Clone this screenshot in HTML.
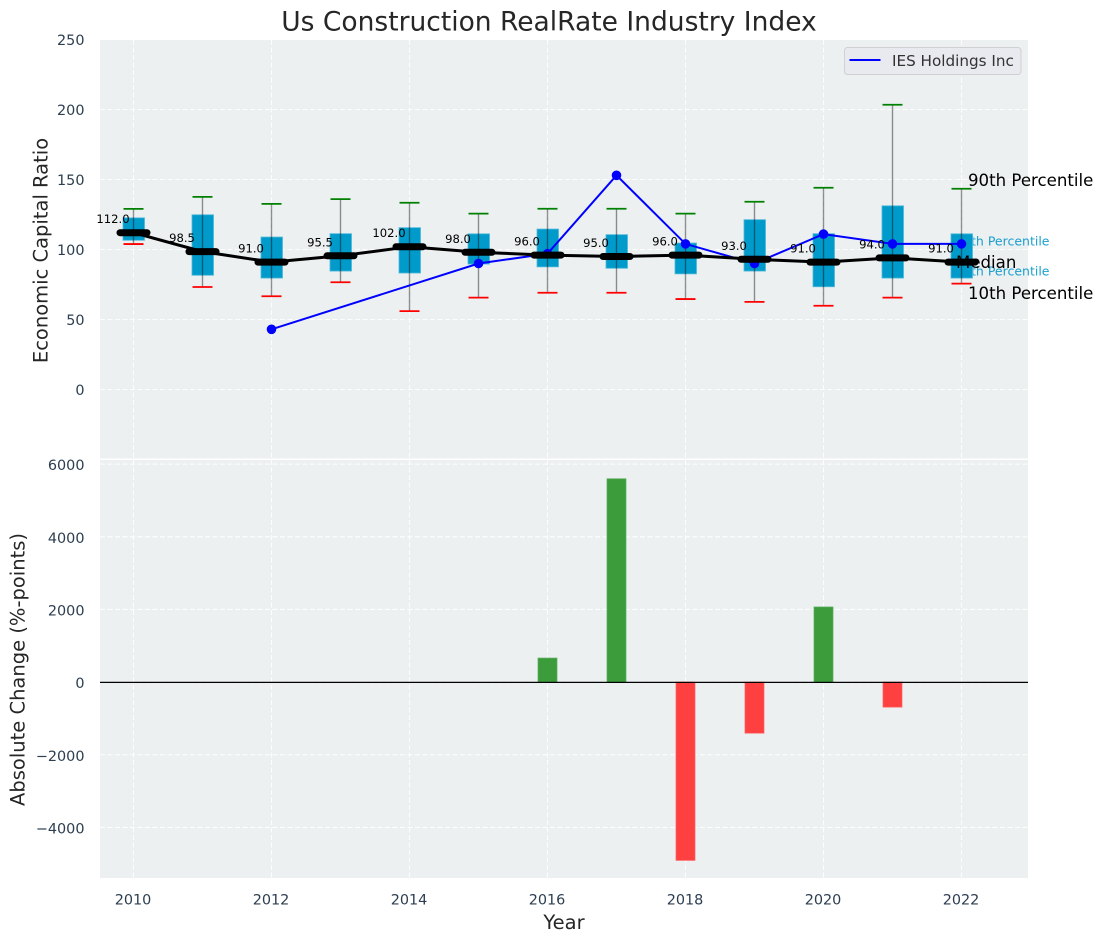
<!DOCTYPE html>
<html lang="en">
<head>
<meta charset="utf-8">
<title>Us Construction RealRate Industry Index</title>
<style>
html,body{margin:0;padding:0;background:#fff;width:1103px;height:942px;overflow:hidden}
svg{display:block;font-family:"DejaVu Sans","Liberation Sans",sans-serif}
</style>
</head>
<body>
<svg id="chart" xmlns="http://www.w3.org/2000/svg" width="1103" height="942" viewBox="0 0 1103 942">
  <rect x="100" y="40" width="928" height="418.5" fill="#ecf0f1"/>
  <rect x="100" y="460" width="928" height="418" fill="#ecf0f1"/>
  <g id="grid"></g>
  <g id="ticks"></g>
  <text x="1049.5" y="245.5" text-anchor="end" font-size="12.5" fill="#1a9fcf">75th Percentile</text>
  <text x="1049.5" y="275.5" text-anchor="end" font-size="12.5" fill="#1a9fcf">25th Percentile</text>
  <g id="boxes"></g>
  <g id="company"></g>
  <g id="medians"></g>
  <g id="bars"></g>
  <line x1="100" x2="1028" y1="682.4" y2="682.4" stroke="#000" stroke-width="1.2"/>
  <text x="968" y="186" font-size="16.6" fill="#000">90th Percentile</text>
  <text x="956" y="268" font-size="16.6" fill="#000">Median</text>
  <text x="968" y="299" font-size="16.6" fill="#000">10th Percentile</text>
  <g>
    <rect x="844.5" y="47.5" width="176.5" height="27" rx="3" fill="#e9eaf0" stroke="#cfcfd4" stroke-width="1"/>
    <line x1="849.5" x2="880.5" y1="60" y2="60" stroke="#0000ff" stroke-width="2"/>
    <text x="892" y="66" font-size="15.2" fill="#333">IES Holdings Inc</text>
  </g>
  <text x="549" y="30.5" text-anchor="middle" font-size="26.5" fill="#262626">Us Construction RealRate Industry Index</text>
  <text transform="translate(47.5,250.5) rotate(-90)" text-anchor="middle" font-size="19.5" fill="#262626">Economic Capital Ratio</text>
  <text transform="translate(24.5,669.5) rotate(-90)" text-anchor="middle" font-size="19.5" fill="#262626">Absolute Change (%-points)</text>
  <text x="564" y="929" text-anchor="middle" font-size="19.5" fill="#262626">Year</text>
</svg>
<script>
const years = [2010,2011,2012,2013,2014,2015,2016,2017,2018,2019,2020,2021,2022];
const p90 = [129,137.6,132.6,136,133.4,125.6,129.1,129.1,125.6,134.1,144.1,203.4,143.4];
const p75 = [122.6,124.8,108.9,111.3,115.6,111.2,114.6,110.6,104.6,121.3,111.3,131.2,111.2];
const medians = [112,98.5,91,95.5,102,98,96,95,96,93,91,94,91];
const p25 = [106.6,81.6,79.6,84.6,83.2,89.6,87.6,86.6,82.6,84.6,73.4,79.6,79.6];
const p10 = [103.9,73.2,66.6,76.6,56,65.6,69.1,69.1,64.6,62.6,59.8,65.6,75.6];
const companyYears = [2012,2015,2016,2017,2018,2019,2020,2021,2022];
const companyValues = [43,90,97,153,104,90,111,104,104];
const changeYears = [2016,2017,2018,2019,2020,2021];
const changeValues = [662,5597,-4908,-1406,2068,-689];
const xTicks = [2010,2012,2014,2016,2018,2020,2022];
const topYTicks = [0,50,100,150,200,250];
const bottomYTicks = [-4000,-2000,0,2000,4000,6000];

const sx = function (v) { return 133.5 + (v - 2010) * 69; };
const sy = function (v) { return 389.5 - v * 1.4; };
const sb = function (v) { return 682.1 - v * 0.03633; };
const NS = 'http://www.w3.org/2000/svg';
function mk(tag, parentId, props, txt) {
  const el = document.createElementNS(NS, tag);
  for (const k in props) el.setAttribute(k, props[k]);
  if (txt !== undefined) el.textContent = txt;
  document.getElementById(parentId).appendChild(el);
  return el;
}
const gridStyle = {stroke:'#ffffff','stroke-width':1.1,'stroke-dasharray':'5 2.5',opacity:0.9};

xTicks.forEach(function (t) {
  let el = mk('line','grid',Object.assign({x1:sx(t),x2:sx(t),y1:40,y2:458.5},gridStyle));
  
  
  el = mk('line','grid',Object.assign({x1:sx(t),x2:sx(t),y1:460,y2:878},gridStyle));
  
  
  el = mk('text','ticks',{x:sx(t)-0.5,y:904.5,'text-anchor':'middle','font-size':14.4,fill:'#2c3e50'},String(t));
  
  
});
topYTicks.forEach(function (t) {
  let el = mk('line','grid',Object.assign({x1:100,x2:1028,y1:sy(t),y2:sy(t)},gridStyle));
  
  
  el = mk('text','ticks',{x:84.5,y:sy(t)+5.5,'text-anchor':'end','font-size':14.4,fill:'#2c3e50'},String(t));
  
  
});
bottomYTicks.forEach(function (t) {
  let el = mk('line','grid',Object.assign({x1:100,x2:1028,y1:sb(t),y2:sb(t)},gridStyle));
  
  
  el = mk('text','ticks',{x:84.5,y:sb(t)+6,'text-anchor':'end','font-size':14.4,fill:'#2c3e50'},String(t).replace('-','\u2212'));
  
  
});

years.forEach(function (yr, i) {
  const x = sx(yr);
  let el = mk('rect','boxes',{x:x-10.5,y:sy(p75[i]),width:21.5,height:sy(p25[i])-sy(p75[i]),fill:'#009bcb',stroke:'#4fb8da','stroke-width':0.8});
  
  
  el = mk('line','boxes',{x1:x,x2:x,y1:sy(p90[i]),y2:sy(p10[i]),stroke:'#000','stroke-width':1.4,opacity:0.42});
  
  
  el = mk('line','boxes',{x1:x-10,x2:x+10,y1:sy(p90[i]),y2:sy(p90[i]),stroke:'#008000','stroke-width':1.8});
  
  
  el = mk('line','boxes',{x1:x-10,x2:x+10,y1:sy(p10[i]),y2:sy(p10[i]),stroke:'#ff0000','stroke-width':1.8});
  
  
});

const companyPts = companyYears.map(function (yr, i) { return sx(yr) + ',' + sy(companyValues[i]); }).join(' ');
const companyLine = mk('polyline','company',{points:companyPts,fill:'none',stroke:'#0000ff','stroke-width':2});


companyYears.forEach(function (yr, i) {
  const el = mk('circle','company',{cx:sx(yr),cy:sy(companyValues[i]),r:4.8,fill:'#0000ff'});
  
  
});

const medianPts = years.map(function (yr, i) { return sx(yr) + ',' + sy(medians[i]); }).join(' ');
const medianLine = mk('polyline','medians',{points:medianPts,fill:'none',stroke:'#000','stroke-width':3});


years.forEach(function (yr, i) {
  const x = sx(yr), y = sy(medians[i]);
  let el = mk('line','medians',{x1:x-13.5,x2:x+13.5,y1:y,y2:y,stroke:'#000','stroke-width':7,'stroke-linecap':'round'});
  
  
  el = mk('text','medians',{x:x-20.5,y:y-9.5,'text-anchor':'middle','font-size':11.6,fill:'#000'},medians[i].toFixed(1));
  
  
});

changeYears.forEach(function (yr, i) {
  const v = changeValues[i];
  const el = mk('rect','bars',{x:sx(yr)-9.5,y:Math.min(sb(v),sb(0)),width:19,height:Math.abs(sb(v)-sb(0)),fill:v>=0?'#3c9c3c':'#ff4040',stroke:v>=0?'#5aad5a':'#ff6060','stroke-width':0.7});
  
  
});
</script>
</body>
</html>
